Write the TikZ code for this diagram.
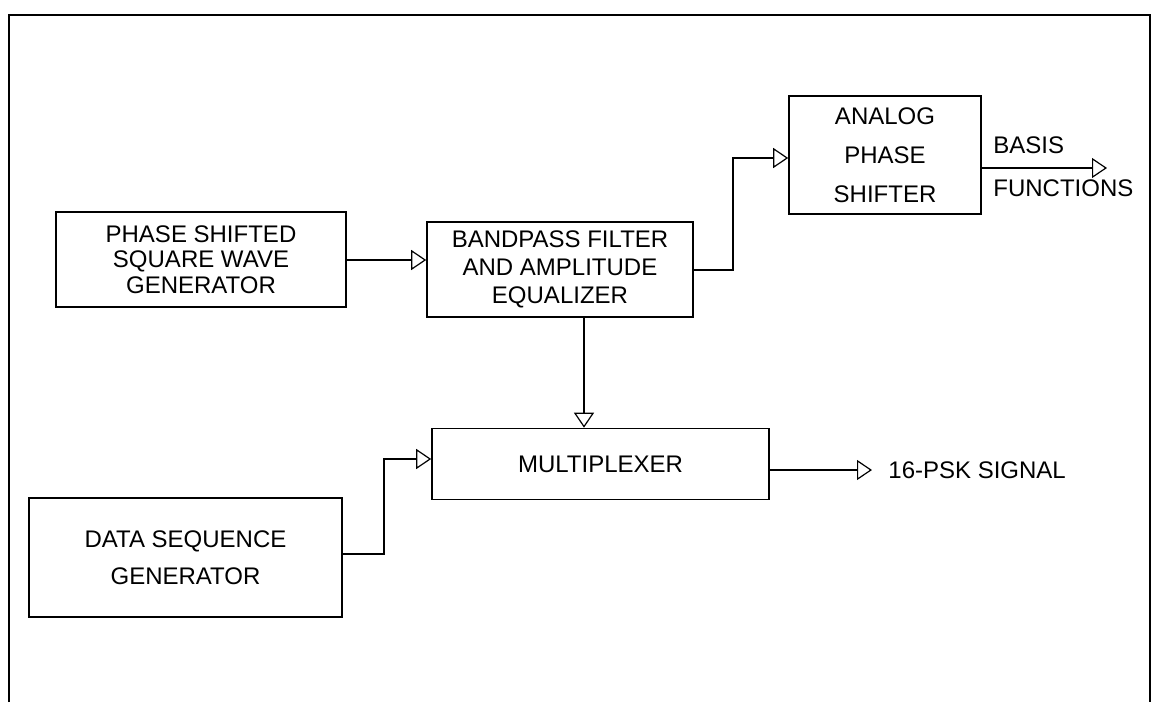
\documentclass[tikz,border=0pt]{standalone}
\usepackage{fontspec}
\setmainfont{Liberation Sans}
\usepackage{tikz}
\usetikzlibrary{arrows.meta, positioning, calc}

\begin{document}
\begin{tikzpicture}[x=0.5pt, y=-0.5pt,
    every node/.style={font=\fontsize{12}{13}\selectfont},
    block/.style={draw, line width=0.8pt, inner sep=0pt, align=center},
    wire/.style={line width=1pt},
    arr/.style={wire, -{Triangle[open, length=7.5pt, width=10pt, line width=0.6pt]}}]
    \useasboundingbox (0,0) rectangle (1152,702);
    % outer frame, open at the bottom
    \draw[line width=1.1pt] (9,702) -- (9,15) -- (1150,15) -- (1150,702);
    % blocks
    \node[block, minimum width=145pt, minimum height=47.5pt,
          font=\fontsize{12}{12.75}\selectfont] (phase) at (201,259.5)
          {PHASE SHIFTED\\SQUARE WAVE\\GENERATOR};
    \node[block, minimum width=133pt, minimum height=47.5pt,
          font=\fontsize{12}{14}\selectfont] (bandpass) at (560,269.5)
          {BANDPASS FILTER\\AND AMPLITUDE\\EQUALIZER};
    \node[block, minimum width=96pt, minimum height=59pt,
          font=\fontsize{12}{19.5}\selectfont] (analog) at (885,155)
          {ANALOG\\PHASE\\SHIFTER};
    \node[block, minimum width=168.5pt, minimum height=35.5pt] (mux) at (600.5,464)
          {MULTIPLEXER};
    \node[block, minimum width=156.5pt, minimum height=59.5pt,
          font=\fontsize{12}{18.5}\selectfont] (data) at (185.5,557.5)
          {DATA SEQUENCE\\GENERATOR};
    % labels
    \node[anchor=west, inner sep=0pt] (basis) at (993,145) {BASIS};
    \node[anchor=west, inner sep=0pt] (funcs) at (993,188) {FUNCTIONS};
    \node[anchor=west, inner xsep=8pt, inner ysep=0pt] (sig) at (872,470) {16-PSK SIGNAL};
    \coordinate (bfend) at (1107,168);
    \coordinate (tap) at (584,317);
    % connectors
    \draw[arr] (phase.east |- 0,260) -- (bandpass.west |- 0,260);
    \draw[arr] (bandpass.east) -- ++(39,0) |- ([yshift=-1.5pt]analog.west);
    \draw[arr] (bfend -| analog.east) -- (bfend);
    \draw[arr] (tap) -- (tap |- mux.north);
    \draw[arr] (data.east) ++(0,-3.5) -- ++(41,0) |- ([yshift=2.5pt]mux.west);
    \draw[arr] (sig.west -| mux.east) -- (sig.west);
\end{tikzpicture}
\end{document}
